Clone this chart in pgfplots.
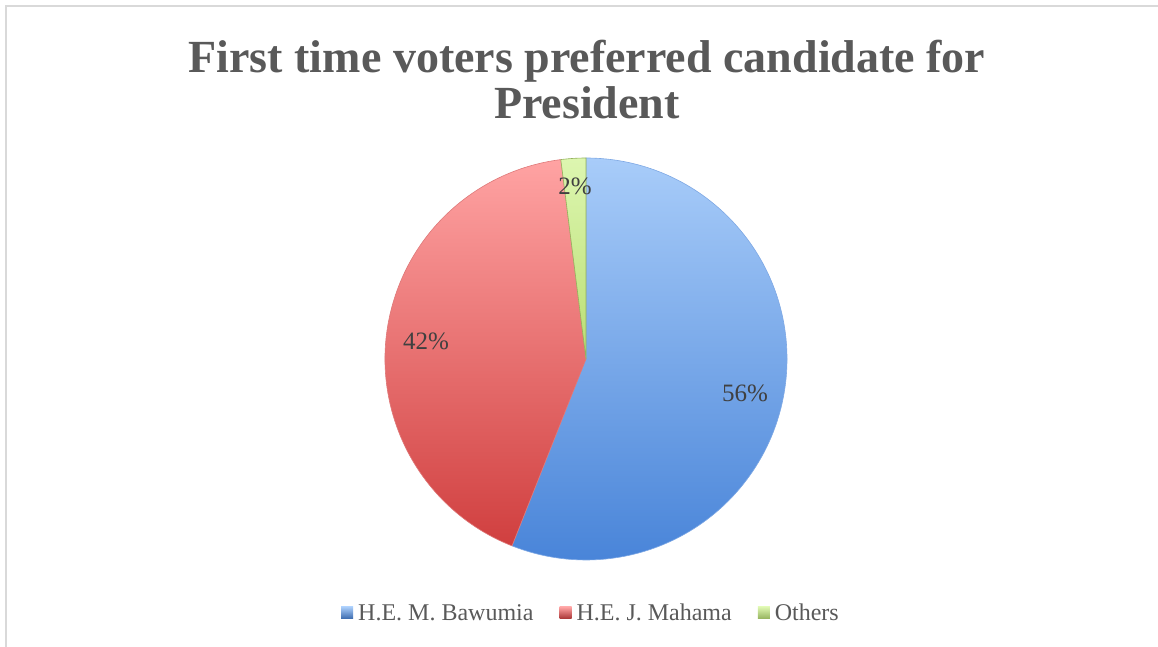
\documentclass[border=0pt]{standalone}
\usepackage{pgfplots}
\pgfplotsset{compat=1.18}
\usepackage{fontspec}
\setmainfont{Liberation Serif}
\definecolor{txt}{HTML}{595959}
\definecolor{lbl}{HTML}{404040}
\definecolor{frame}{HTML}{D9D9D9}
\definecolor{btop}{HTML}{A8CCF9}
\definecolor{bbot}{HTML}{4783D8}
\definecolor{rtop}{HTML}{FFA3A3}
\definecolor{rbot}{HTML}{D03F3F}
\definecolor{gtop}{HTML}{DDF6B0}
\definecolor{gbot}{HTML}{B9DE73}

\begin{document}
\begin{tikzpicture}
% shares in percent, slices clockwise from 12 o'clock
\def\vA{56}\def\vB{42}\def\vC{2}
\pgfmathsetmacro{\aA}{90}
\pgfmathsetmacro{\aB}{\aA-3.6*\vA}
\pgfmathsetmacro{\aC}{\aB-3.6*\vB}
\pgfmathsetmacro{\aD}{\aC-3.6*\vC}
\begin{axis}[
    at={(0,0)}, anchor=south west,
    scale only axis,
    width=1158pt, height=647pt,
    xmin=0, xmax=1158, ymin=0, ymax=647,
    hide axis, clip=false,
    legend columns=3,
    legend style={at={(axis cs:591,34)}, anchor=center, draw=none, fill=none,
      font=\fontsize{24}{27}\selectfont\color{txt},
      /tikz/every even column/.append style={column sep=24pt}},
    legend cell align=left,
  ]
  % frame (top and left edge)
  \draw[frame, line width=1.5pt] (axis cs:6,0) -- (axis cs:6,641) -- (axis cs:1158,641);

  % slices
  \shade[top color=btop, bottom color=bbot, draw=bbot!70!white, line width=0.6pt]
    (axis cs:586,288) -- ++(\aA:201pt) arc[start angle=\aA, end angle=\aB, radius=201pt] -- cycle;
  \shade[top color=rtop, bottom color=rbot, draw=rbot!70!white, line width=0.6pt]
    (axis cs:586,288) -- ++(\aB:201pt) arc[start angle=\aB, end angle=\aC, radius=201pt] -- cycle;
  \shade[top color=gtop, bottom color=gbot, draw=gbot!80!black, line width=0.6pt]
    (axis cs:586,288) -- ++(\aC:201pt) arc[start angle=\aC, end angle=\aD, radius=201pt] -- cycle;

  % data labels
  \node[lbl, font=\fontsize{25}{28}\selectfont] at (axis cs:745,254) {\vA\%};
  \node[lbl, font=\fontsize{25}{28}\selectfont] at (axis cs:426,306) {\vB\%};
  \node[lbl, font=\fontsize{25}{28}\selectfont] at (axis cs:575,461) {\vC\%};

  % title
  \node[txt, font=\bfseries\fontsize{46}{46}\selectfont, align=center] at (axis cs:587,567)
    {First time voters preferred candidate for\\President};

  % legend
  \addlegendimage{legend image code/.code={\shade[draw=none, top color=btop, bottom color=bbot!80!black] (0pt,-6pt) rectangle (12pt,6pt); \path[draw=none] (12pt,0pt) -- (15pt,0pt);}}
  \addlegendentry{H.E. M. Bawumia}
  \addlegendimage{legend image code/.code={\shade[draw=none, top color=rtop, bottom color=rbot!80!black] (0pt,-6pt) rectangle (12pt,6pt); \path[draw=none] (12pt,0pt) -- (15pt,0pt);}}
  \addlegendentry{H.E. J. Mahama}
  \addlegendimage{legend image code/.code={\shade[draw=none, top color=gtop, bottom color=gbot!80!black] (0pt,-6pt) rectangle (12pt,6pt); \path[draw=none] (12pt,0pt) -- (15pt,0pt);}}
  \addlegendentry{Others}
\end{axis}
\pgfresetboundingbox
\path (0,0) rectangle (1158pt,647pt);
\end{tikzpicture}
\end{document}
